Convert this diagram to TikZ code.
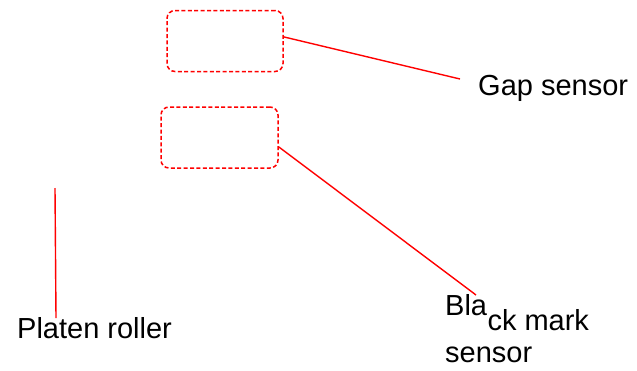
\documentclass[tikz,border=0pt]{standalone}
\usepackage{fontspec}
\setmainfont{Liberation Sans}
\begin{document}
\begin{tikzpicture}[x=1pt,y=-1pt,
  sensorbox/.style={draw=red, line width=1.5pt, dash pattern=on 4pt off 2.4pt, rounded corners=8pt, minimum width=116pt, minimum height=61pt, inner sep=0pt},
  leader/.style={draw=red, line width=1.4pt},
  lbl/.style={anchor=base west, inner sep=0pt, font=\fontsize{29}{33}\selectfont}]
\useasboundingbox (0,0) rectangle (637,370);
\node[sensorbox] (box1) at (225,41) {};
\node[sensorbox, minimum width=117pt] (box2) at (219.5,137.5) {};
\node[lbl] (gap) at (478,95) {Gap sensor};
\node[lbl] (platen) at (17,338) {Platen roller};
\node[lbl] (bla) at (445,315) {Bla};
\node[lbl, anchor=base west] (ck) at ([yshift=-15pt]bla.base east) {ck mark};
\node[lbl] (sens) at (445,362) {sensor};
\coordinate (gaptip) at (460,79);
\coordinate (blacktip) at (476,295);
\coordinate (platentop) at (55,188);
\coordinate (platenbot) at (56,318);
\draw[leader] (box1.4) -- (gaptip);
\draw[leader] (box2.-9) -- (blacktip);
\draw[leader] (platentop) -- (platenbot);
\end{tikzpicture}
\end{document}
